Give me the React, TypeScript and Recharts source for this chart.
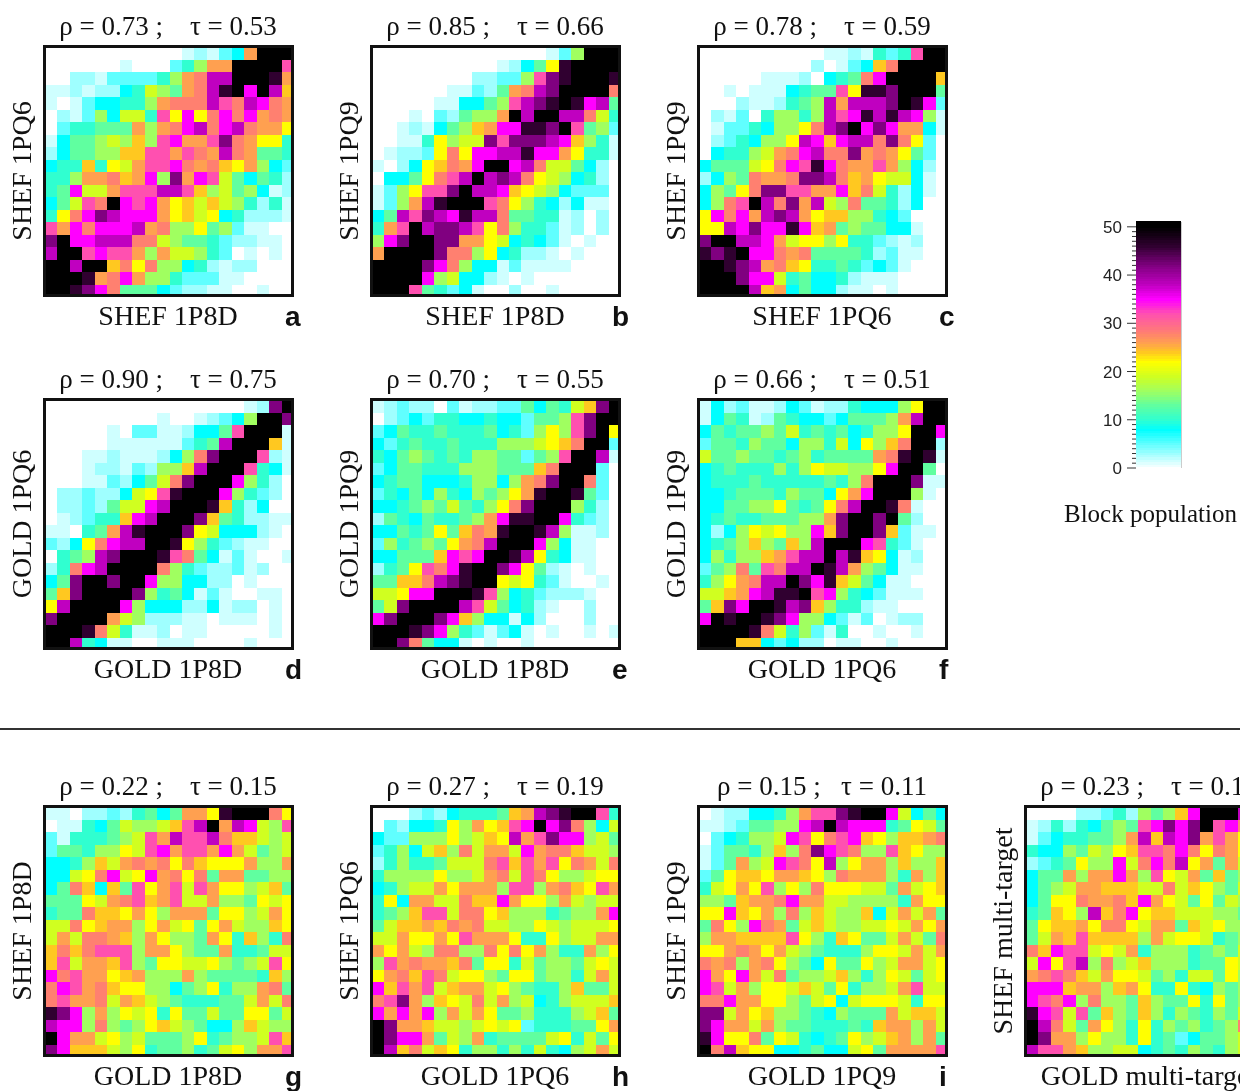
import React from "react";
import { ScatterChart, Scatter, XAxis, YAxis, ReferenceLine } from "recharts";

// block population per letter used in the rows below
const POPULATION: Record<string, number> = {
  ".": 0, "1": 1.5, "2": 3, "3": 5, c: 8, t: 10, g: 13, l: 16, e: 19, y: 22,
  a: 24, o: 26, s: 28, p: 32, m: 35, n: 38, u: 42, d: 46, k: 50,
};

const COLOR_STOPS: [number, string][] = [
  [0, "#ffffff"], [8, "#00ffff"], [10, "#30ffd0"], [13, "#60ffa0"], [16, "#a0ff60"],
  [19, "#d0ff20"], [22, "#ffff00"], [24, "#ffc820"], [26, "#ffa050"], [28, "#ff8070"],
  [32, "#ff50b0"], [35, "#ff00ff"], [38, "#c000c0"], [42, "#800080"], [46, "#300030"], [50, "#000000"],
];

const rowsA = ["...........1213cokkk","......1...3tlookkkkp","..2213333tlosnnkkkdo","112122ctelgosndkmkna","1.13ccttlosssnpsnmso",".213lceetpymysmsmoso",".3ttgggolosmnsmnsooy","1cgglelalpmoopusoyyt","2cggllaappopsonsoggt","cttatyeoppmsosayolc3","ttloosaomluompegcgt2","tgmeeopppnnpaleglc12","cgepskmpmoyaeaelt2t1","tysmunmmmoyaeyct2221","pomsmmmnosllygl311..","ukmmnnnsselggt32211.","nkkpmppoloeelt3.1.1.","kknkkasysllct2122...","kkkdosmollt33311....","kkdumsgggc32211..1.."];
const rowsB = ["..............13lkkk","..........12cgydkkkk","........2233lpudkkkd","......1132gosnukkkks",".....11ccglpnudkdmng","...1.32glloknkknnset","..121cglaommddukpgl3","..11tyleeupuuunmalt1",".1223ysymmnndmmoytt1","1.2cyasomkkmnseegc2.",".ccgyspnknunsyelct2.","13lyppuknnmayelc333.","13londkkkpsyltc2c11.","cgnpunmdnnsggtt12.2.","topknuunpysltt312.2.","lmukkuuooyectc31.1..","okkkkusslyct221.1...","kkkkumslcc131111....","kkkkmlecc21.1.......","kkkpgt3c1..2..1....."];
const rowsC = ["..........1121t3tpkk",".........2.13caskkkk",".....1112.ctgsmkkkka","..1.111ctggpyddukkkg","...2112tglnonnnukdm3",".213.tlltlnpmdndnml1",".133tcllysnukmumooc1",".23tcllynmamnnsusy3.",".cttleosmnssuosoyg3.","cgggeysmpdmsoopolc2.","2clgsoosuunsaoyeec1.","clgysuuppoomaset2c1.","clspknsuonelsggt2c..","ymsmonunoyaalltc3...","yynmummdmaoglggcc1..","ukknnmoeyylytt3212..","dudkmmsosggggt2311..","kkdunosayttgt3c31...","kkkummetgcct2111....","kkkknaocgcc211.1...."];
const rowsD = ["................12uk",".........1..123clkku",".....1.33112ccgpkkk1",".....1111113tgnkkka1","...1121112clsukkkp21","...122132llankkkptc1","...1132cgesukkkmlt2.",".22322ceypdkkkmlt32.",".2232geemnkkkdat2c..",".123ttamnkkkuagt2211","11.tgondkkkuyeccc21.","32cysmnnkkdylt3211..",".tglnukkkdpsgc131..1","2tsmnkkkkslt322312..","cgukkukkmllcc22.1...","gaukkkkultgc131..11.","ynkkkkmlccc22c122.1.","ukkkkoel22211.111.1.","kkkdset112.11.....1.","kkntc11..111....1..."];
const rowsE = ["12322.312233gcgteauk",".23c3ttcctcc3gglpukk","3cgttgtttgct3lylpuky","c3tgttgtttllleyaskk3","tcglgtgtllgg3glpkkn1","3cggtttlllgggaskkk3.","ctggccctllclosukks3.","3tcgcltclglyodkkdg3.","cctglgegtlysukkklt2.","2gtcgttglomddkkmt32.","ccgtgygasodkkdnl112.","3ltglgyosnkkkmlc11..","ccgggampmkkdnytc11..","2tgypsmdkkumyg21.1..","ggaasnudkkyeyt31..1.","eeymmkkkdplct32221..","geukkkknpegct21..2..","mukkkumalcc1c2...2..","kkkdumlt313c1.1..1.1","kkusgcc1.1..1......."];
const rowsF = ["1c23112c3122tccclykk","1cgt12gtcc3cggglonkk","cgtgglgetgtgctllykkm","3ggtlggclltecylaskk2","egglggtgltggggosdkd1","ctgtttltlyeellymkkg.","ctttgtttttgtlskkku11","cctgggtlggcyomkkkl1.","ccggllygtgysnkkds1..","ctgttggglloukkukg2..","c2clyeyllmaukkua311.","ctglalgalnkkkmpt31..","cltllaopnnkndayc12..","3glsgpsnnkdnolgc11..","tlyosnnkumdaegc11...","eeaomnddkpmltc3111..","gaumkkdnualtt211....","mkdkkdumllc313.122..","kkkkdsetl31t..1..1..","kkkaac3c22.11..1...."];
const rowsG = ["11.2232tgcgooydkkksy",".11tcgelleapnkonmelp","31tttgleponppnsaaele","3ggtllyepmoppomoegle","cctlaeososysayyyollo","cceysmeymosysgooggll","cgsacagpyopepoyyleag","gggyeospaopeeollgyey","tggsaayoylooogyyleoy","eesyaoolyoeygyoellay","eoessoaloyllgoytalts","asasppplooylggottgee","apeooaplgyyeeylglepy","mspooyaolllolggggtal","smposayyllcglytllosg","spooseoaelgtttggeoes","dumlolyeytyggeggyyge","nmmlslglyaelgcclaell","kmooeyleggglytgllepa","umaaaelytggltgeyloop"];
const rowsH = ["...232ctttgaonudkkpt",".32cctyloyapmkmuslce","c33lllyleaynopummleg","3tlcealseooemossaeel","2tlttgeeespapopysoes","tllllylleosepsylleyy","ctleeoyooolpplosaypo","tycooeesaamoyyloelee","tglappessyallltgllom","geaaoasoseellyeleeey","eeoyyoypoooyttyleeoo","oyoelssllsysyolttoly","lposooasgyytegllgeye","yosapseyylgyygllteoe","mapopeaooeylgttlagge","spuolayeseolectleeea","momomloeoyggltttleag","kuooaeeleyey3tttggyo","kummogelotggggeytegy","knaseaytlltltetcleoe"];
const rowsI = [".122cctloppudkkmecgc","1123ggllmnknmmmtgyeg",".3ctllempyspmaylaaos","13ggtlalsumpsllpayll","13golempsynlyoolalla","3gyaayooaylsoooltola","teyoyplylsyyyeegoeya","llgaoosmooeelllltoyy","yymayolslaellaceoeog","gsylmsogeaelleeyeoyo","looaaaapyltayggeoegs","yyosoyoelgtttlyyeoeo","soslosylgcyggyleooey","moymoesgllealtlyegey","mpeolyyeaegytlleopee","ssmooyylgeyceyyyetyy","uueoyallgtclgggoeaae","umooeolggtttgtaooloe","dmyysgyetctgyleaolog","ksnayycctgcceygoooop"];
const rowsJ = ["....223t2lglamkkknms","12t2tcglgpmumukpmsoe","13cttgglonanmuopoyoe","tcclgelyappsmsysoyle","23tgyllmesmsnyogoely","cggoloomolpyeogagley","cgleooaaaeeseaylgeyl","cgyysoosamoyegygeley","tgaylnasmyaaeeellgle","gyaaoyssyeoogaeylley","geoapaaaaloeyyetgley","samppeyeotllltglgele","emypnlsleallltggyely","ospsaeoyyeglteegyleg","mmmaoolaoyttytclglge","mpsmlsllgalggytyglge","dmpepgalgaltlgtlgegl","knsegoyltytlgltglsey","kuoolylltytg3cggleys","nppoalleectgtlgtleos"];

const titles = [
  "ρ = 0.73 ;    τ = 0.53", "ρ = 0.85 ;    τ = 0.66", "ρ = 0.78 ;    τ = 0.59",
  "ρ = 0.90 ;    τ = 0.75", "ρ = 0.70 ;    τ = 0.55", "ρ = 0.66 ;    τ = 0.51",
  "ρ = 0.22 ;    τ = 0.15", "ρ = 0.27 ;    τ = 0.19", "ρ = 0.15 ;   τ = 0.11", "ρ = 0.23 ;    τ = 0.16",
];
const xNames = ["SHEF 1P8D","SHEF 1P8D","SHEF 1PQ6","GOLD 1P8D","GOLD 1P8D","GOLD 1PQ6","GOLD 1P8D","GOLD 1PQ6","GOLD 1PQ9","GOLD multi-target"];
const yNames = ["SHEF 1PQ6","SHEF 1PQ9","SHEF 1PQ9","GOLD 1PQ6","GOLD 1PQ9","GOLD 1PQ9","SHEF 1P8D","SHEF 1PQ6","SHEF 1PQ9","SHEF multi-target"];
const panelLetters = ["a","b","c","d","e","f","g","h","i","j"];
const panelRows = [rowsA, rowsB, rowsC, rowsD, rowsE, rowsF, rowsG, rowsH, rowsI, rowsJ];
const barTicks = [0, 10, 20, 30, 40, 50];
const barMinorTicks = Array.from({ length: 51 }, (_, i) => i);
const barLevels = Array.from({ length: 103 }, (_, i) => ({ x: 0.5, y: i / 2 }));

const lefts = [43, 370, 697, 43, 370, 697, 43, 370, 697, 1024];
const tops = [45, 45, 45, 398, 398, 398, 805, 805, 805, 805];

const SERIF = "'Liberation Serif', serif";
const SANS = "'Liberation Sans', sans-serif";
const PLOT_W = 249;
const PLOT_H = 250;
const CHART_W = 330;
const CHART_H = 345;
const CELL_W = PLOT_W / 20;
const CELL_H = PLOT_H / 20;

function colorFor(v: number) {
  for (let i = 1; i < COLOR_STOPS.length; i++) {
    if (v <= COLOR_STOPS[i][0]) {
      const [a, ca] = COLOR_STOPS[i - 1];
      const [b, cb] = COLOR_STOPS[i];
      const t = (v - a) / (b - a);
      const ch = (c: string, o: number) => parseInt(c.slice(o, o + 2), 16);
      const mix = (o: number) => Math.round(ch(ca, o) + (ch(cb, o) - ch(ca, o)) * t);
      return `rgb(${mix(1)},${mix(3)},${mix(5)})`;
    }
  }
  return "#000000";
}

const toCells = (rows: string[]) =>
  rows.flatMap((row, r) =>
    row.split("").map((ch, c) => ({ x: c + 0.5, y: 19.5 - r, population: POPULATION[ch] }))
  );

const CellShape = (props: any) => (
  <rect
    x={props.cx - CELL_W / 2}
    y={props.cy - CELL_H / 2}
    width={CELL_W}
    height={CELL_H}
    fill={colorFor(props.payload.population)}
    shapeRendering="crispEdges"
  />
);

const Panel = ({ index }: { index: number }) => (
  <div style={{ position: "absolute", left: lefts[index] - 44, top: tops[index] - 46 }}>
    <ScatterChart
      width={CHART_W}
      height={CHART_H}
      margin={{ top: 48, left: 46, right: CHART_W - 46 - PLOT_W, bottom: CHART_H - 48 - PLOT_H }}
    >
      <XAxis type="number" dataKey="x" domain={[0, 20]} tick={false} axisLine={false} tickLine={false} height={0} />
      <YAxis type="number" dataKey="y" domain={[0, 20]} tick={false} axisLine={false} tickLine={false} width={0} />
      <Scatter data={toCells(panelRows[index])} shape={CellShape} isAnimationActive={false} />
      <text x={169} y={36} textAnchor="middle" fontFamily={SERIF} fontSize={27} fill="#111" style={{ whiteSpace: "pre" }}>
        {titles[index].replace(/ {2,}/g, (s) => "\u00a0".repeat(s.length))}
      </text>
      <text x={169} y={326} textAnchor="middle" fontFamily={SERIF} fontSize={28} fill="#111">
        {xNames[index]}
      </text>
      <text x={32} y={172} textAnchor="middle" transform="rotate(-90 32 172)" fontFamily={SERIF} fontSize={28} fill="#111">
        {yNames[index]}
      </text>
      <text x={286} y={327} fontFamily={SANS} fontWeight="bold" fontSize={28} fill="#111">
        {panelLetters[index]}
      </text>
    </ScatterChart>
    <div
      style={{
        position: "absolute",
        left: 44,
        top: 46,
        width: 251,
        height: 252,
        boxSizing: "border-box",
        border: "3px solid #111",
        pointerEvents: "none",
      }}
    />
  </div>
);

const BarTick = (props: any) => {
  const { x, y, payload } = props;
  const major = barTicks.includes(payload.value);
  return (
    <g>
      <line x1={x - (major ? 9 : 4)} x2={x} y1={y} y2={y} stroke="#333" strokeWidth={1} />
      {major && (
        <text x={x - 14} y={y + 6} textAnchor="end" fontFamily={SANS} fontSize={17} fill="#222">
          {payload.value}
        </text>
      )}
    </g>
  );
};

const LevelShape = (props: any) => (
  <rect
    x={props.cx - 22.5}
    y={props.cy - 1.5}
    width={45}
    height={3}
    fill={colorFor(props.payload.y)}
    shapeRendering="crispEdges"
  />
);

const ColorBar = () => (
  <div style={{ position: "absolute", left: 1086, top: 212 }}>
    <ScatterChart width={154} height={266} margin={{ top: 10, left: 49, right: 59, bottom: 10 }}>
      <XAxis type="number" dataKey="x" domain={[0, 1]} tick={false} axisLine={false} tickLine={false} height={0} />
      <YAxis
        type="number"
        dataKey="y"
        domain={[0, 51]}
        ticks={barMinorTicks}
        interval={0}
        tick={BarTick}
        axisLine={false}
        tickLine={false}
        tickSize={0}
        tickMargin={0}
        width={1}
      />
      <Scatter data={barLevels} shape={LevelShape} isAnimationActive={false} />
      <ReferenceLine x={1} stroke="#999" ifOverflow="visible" />
    </ScatterChart>
  </div>
);

export default function App() {
  return (
    <div style={{ position: "absolute", left: 0, top: 0, width: 1240, height: 1091, overflow: "hidden", background: "#fff", filter: "blur(0.6px)" }}>
      {panelRows.map((_, i) => (
        <Panel key={i} index={i} />
      ))}
      <ColorBar />
      <div style={{ position: "absolute", left: 1064, top: 500, fontFamily: SERIF, fontSize: 25, color: "#111", whiteSpace: "nowrap" }}>
        Block population
      </div>
      <div style={{ position: "absolute", left: 0, top: 728, width: 1240, height: 2, background: "#333" }} />
    </div>
  );
}
